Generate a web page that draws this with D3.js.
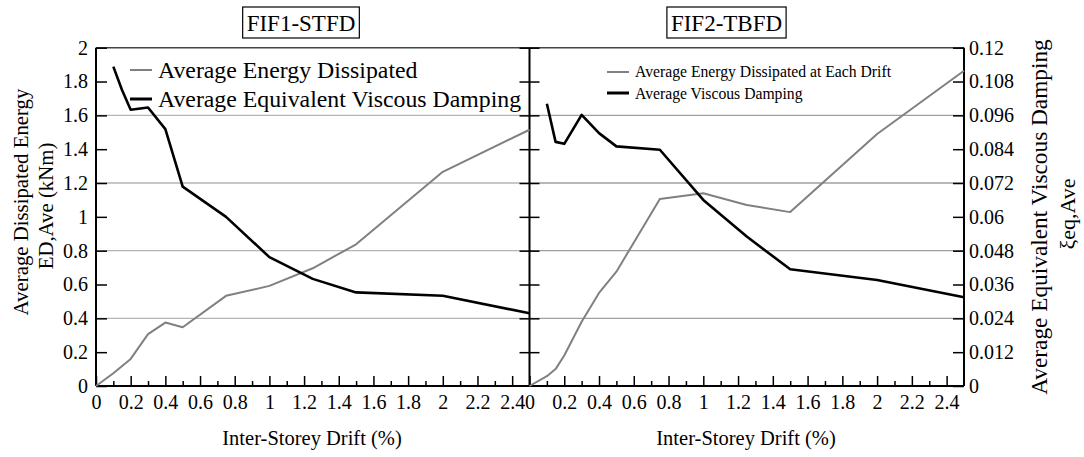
<!DOCTYPE html>
<html>
<head>
<meta charset="utf-8">
<script src="https://cdn.jsdelivr.net/npm/d3@7"></script>
<style>
  html, body { margin: 0; padding: 0; background: #fff; }
  svg text { font-family: "Liberation Serif", "Times New Roman", "DejaVu Serif", serif !important; fill: #000; }
  .domain { display: none; }
</style>
</head>
<body>
<svg id="chart" width="1084" height="457"></svg>
<script>
// Inter-storey drift (%) at which each cycle group was measured
const driftEnergy = [0, 0.1, 0.2, 0.3, 0.4, 0.5, 0.75, 1, 1.25, 1.5, 2, 2.5];
const driftDamping = [0.1, 0.15, 0.2, 0.3, 0.4, 0.5, 0.75, 1, 1.25, 1.5, 2, 2.5];
const driftEnergyTB = [0, 0.1, 0.15, 0.2, 0.3, 0.4, 0.5, 0.75, 1, 1.25, 1.5, 2, 2.5];

// FIF1-STFD
const energySTFD = [0, 0.075, 0.16, 0.307, 0.375, 0.347, 0.533, 0.592, 0.696, 0.838, 1.266, 1.515];
const dampingSTFD = [0.1133, 0.105, 0.098, 0.0988, 0.0911, 0.0707, 0.060, 0.0457, 0.038, 0.0332, 0.032, 0.0258];

// FIF2-TBFD
const energyTBFD = [0, 0.058, 0.10, 0.18, 0.38, 0.55, 0.676, 1.105, 1.14, 1.07, 1.028, 1.49, 1.864];
const dampingTBFD = [0.1001, 0.0866, 0.0859, 0.0962, 0.0897, 0.085, 0.0838, 0.066, 0.053, 0.0414, 0.0376, 0.0315];

// Axis ticks
const driftMajor = [0, 0.2, 0.4, 0.6, 0.8, 1, 1.2, 1.4, 1.6, 1.8, 2, 2.2, 2.4];
const driftMinor = [0.1, 0.3, 0.5, 0.7, 0.9, 1.1, 1.3, 1.5, 1.7, 1.9, 2.1, 2.3];
const energyTicks = [0, 0.2, 0.4, 0.6, 0.8, 1, 1.2, 1.4, 1.6, 1.8, 2];
const dampingTicks = [0, 0.012, 0.024, 0.036, 0.048, 0.06, 0.072, 0.084, 0.096, 0.108, 0.12];
const gridEnergy = [0.4, 0.8, 1.2, 1.6];
const gridDamping = [0.024, 0.048, 0.072, 0.096];

const svg = d3.select("#chart");

const yTop = 47.7, yBot = 386;
const xL = d3.scaleLinear().domain([0, 2.5]).range([96, 529.5]);
const xR = d3.scaleLinear().domain([0, 2.5]).range([529.5, 964]);
const yE = d3.scaleLinear().domain([0, 2]).range([yBot, yTop]);
const yD = d3.scaleLinear().domain([0, 0.12]).range([yBot, yTop]);

const fmtE = d => String(+d.toFixed(1));
const fmtD = d => String(+d.toFixed(3));

// Gridlines
svg.append("g").selectAll("line").data(gridEnergy).join("line")
  .attr("x1", xL(0)).attr("x2", xL(2.5))
  .attr("y1", d => yE(d)).attr("y2", d => yE(d))
  .attr("stroke", "#b4b4b4").attr("stroke-width", 1.3);
svg.append("g").selectAll("line").data(gridDamping).join("line")
  .attr("x1", xR(0)).attr("x2", xR(2.5))
  .attr("y1", d => yD(d)).attr("y2", d => yD(d))
  .attr("stroke", "#a0a0a0").attr("stroke-width", 1.3);

// Frame lines
const frame = svg.append("g").attr("stroke", "#000").attr("stroke-width", 2);
frame.append("line").attr("x1", xL(0)).attr("x2", xR(2.5)).attr("y1", yTop).attr("y2", yTop)
  .attr("stroke", "#444").attr("stroke-width", 1.5);
frame.append("line").attr("x1", xL(0)).attr("x2", xL(0)).attr("y1", yTop).attr("y2", yBot);
frame.append("line").attr("x1", xR(0)).attr("x2", xR(0)).attr("y1", yTop).attr("y2", yBot);
frame.append("line").attr("x1", xR(2.5)).attr("x2", xR(2.5)).attr("y1", yTop).attr("y2", yBot);
frame.append("line").attr("x1", xL(0)).attr("x2", xR(2.5)).attr("y1", yBot).attr("y2", yBot);

function styleAxis(g, size) {
  g.attr("font-family", null);
  g.selectAll(".tick line").attr("stroke", "#000").attr("stroke-width", 1.5);
  g.selectAll("text").style("font-size", size + "px");
}

// Left energy axis
svg.append("g").attr("transform", `translate(${xL(0)},0)`)
  .call(d3.axisLeft(yE).tickValues(energyTicks).tickSize(-11).tickPadding(8).tickFormat(fmtE))
  .call(g => styleAxis(g, 20));

// Right damping axis
svg.append("g").attr("transform", `translate(${xR(2.5)},0)`)
  .call(d3.axisRight(yD).tickValues(dampingTicks).tickSize(-11).tickPadding(5).tickFormat(fmtD))
  .call(g => styleAxis(g, 20));

// Shared divider ticks on both sides
svg.append("g").attr("transform", `translate(${xR(0)},0)`)
  .call(d3.axisRight(yE).tickValues(energyTicks.slice(1)).tickSize(-10).tickFormat(""))
  .call(g => styleAxis(g, 20));
svg.append("g").attr("transform", `translate(${xR(0)},0)`)
  .call(d3.axisLeft(yE).tickValues(energyTicks.slice(1)).tickSize(-10).tickFormat(""))
  .call(g => styleAxis(g, 20));

// Drift axes
[xL, xR].forEach(x => {
  svg.append("g").attr("transform", `translate(0,${yBot})`)
    .call(d3.axisBottom(x).tickValues(driftMajor).tickSize(-10).tickPadding(9).tickFormat(fmtE))
    .call(g => styleAxis(g, 20));
  svg.append("g").attr("transform", `translate(0,${yBot})`)
    .call(d3.axisBottom(x).tickValues(driftMinor).tickSize(-5).tickFormat(""))
    .call(g => styleAxis(g, 20));
});

// Series lines
const lineOf = (x, y, xs) => d3.line().x((d, i) => x(xs[i])).y(d => y(d));
const drawLine = (data, x, y, xs, color, w) =>
  svg.append("path").datum(data)
    .attr("d", lineOf(x, y, xs))
    .attr("fill", "none").attr("stroke", color).attr("stroke-width", w)
    .attr("stroke-linejoin", "round");

drawLine(energySTFD, xL, yE, driftEnergy, "#808080", 2);
drawLine(dampingSTFD, xL, yD, driftDamping, "#000", 2.6);
drawLine(energyTBFD, xR, yE, driftEnergyTB, "#808080", 2);
drawLine(dampingTBFD, xR, yD, driftDamping, "#000", 2.6);

// Legends
function legend(x0, rows, size, textX) {
  const g = svg.append("g");
  rows.forEach(r => {
    g.append("line").attr("x1", x0).attr("x2", x0 + 22).attr("y1", r.y).attr("y2", r.y)
      .attr("stroke", r.color).attr("stroke-width", r.w);
    g.append("text").attr("x", textX).attr("y", r.base).style("font-size", size + "px").text(r.label);
  });
}
legend(130, [
  { y: 70, base: 78, color: "#808080", w: 2, label: "Average Energy Dissipated" },
  { y: 99, base: 107, color: "#000", w: 3, label: "Average Equivalent Viscous Damping" }
], 23.8, 158);
legend(607, [
  { y: 72, base: 77, color: "#808080", w: 2, label: "Average Energy Dissipated at Each Drift" },
  { y: 93, base: 98.5, color: "#000", w: 3, label: "Average Viscous Damping" }
], 15.7, 635);

// Panel titles in boxes
function boxedTitle(cx, label) {
  const t = svg.append("text").attr("x", cx).attr("y", 31).attr("text-anchor", "middle")
    .style("font-size", "23px").text(label);
  const b = t.node().getBBox();
  svg.append("rect").attr("x", b.x - 4).attr("y", 7).attr("width", b.width + 8).attr("height", 31)
    .attr("fill", "none").attr("stroke", "#000").attr("stroke-width", 1.2);
}
boxedTitle(301, "FIF1-STFD");
boxedTitle(726.5, "FIF2-TBFD");

// Axis titles
svg.append("text").attr("x", 312).attr("y", 445).attr("text-anchor", "middle")
  .style("font-size", "20.5px").text("Inter-Storey Drift (%)");
svg.append("text").attr("x", 746).attr("y", 445).attr("text-anchor", "middle")
  .style("font-size", "20.5px").text("Inter-Storey Drift (%)");

const yTitle = (x, y, label, size) =>
  svg.append("text").attr("transform", `translate(${x},${y}) rotate(-90)`)
    .attr("text-anchor", "middle").style("font-size", size + "px").text(label);
yTitle(28, 202, "Average Dissipated Energy", 20.8);
yTitle(53, 206, "ED,Ave (kNm)", 20.8);
yTitle(1047, 217, "Average Equivalent Viscous Damping", 23.3);
yTitle(1075, 214, "ξeq,Ave", 22);
</script>
</body>
</html>
